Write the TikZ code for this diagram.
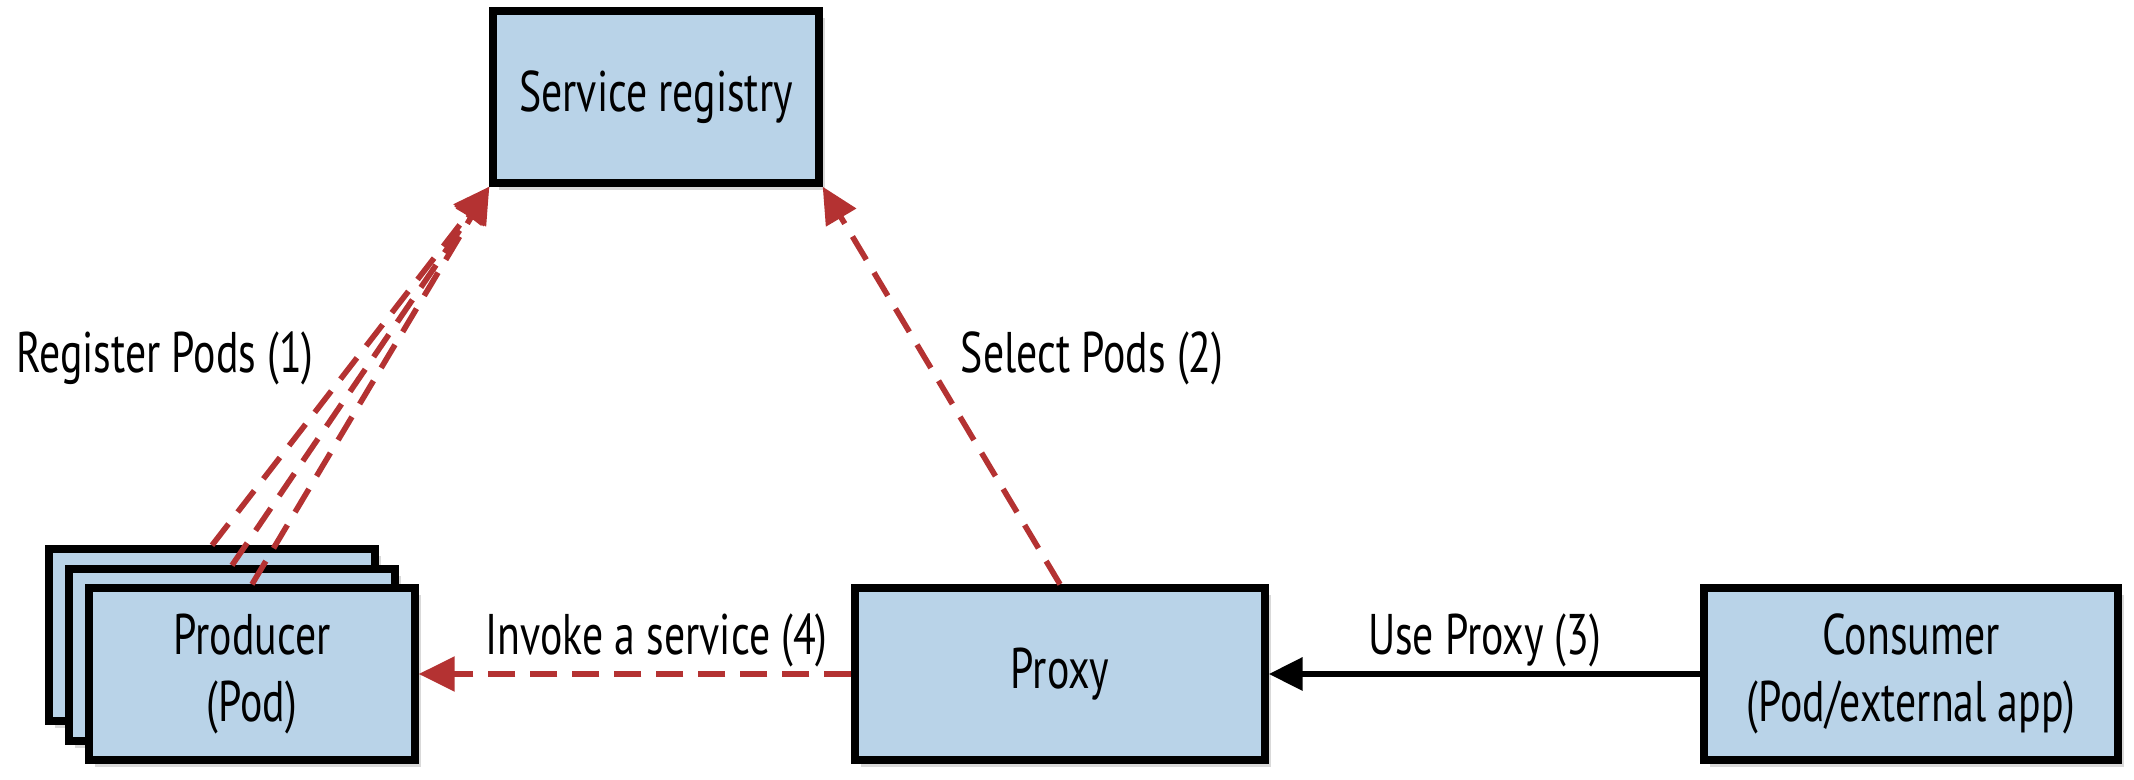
\documentclass[tikz,border=0pt]{standalone}
\usepackage{fontspec}
\setmainfont[FakeStretch=0.73]{PT Sans}
\usetikzlibrary{arrows.meta,shadows}
\definecolor{boxblue}{RGB}{185,211,232}
\definecolor{linkred}{RGB}{180,50,50}
\begin{document}
\begin{tikzpicture}[
        font=\fontsize{16.3}{19}\selectfont,
        box/.style={draw=black,line width=2.1pt,fill=boxblue,minimum height=1.72cm,align=center,
            drop shadow={shadow xshift=.06cm,shadow yshift=-.07cm,opacity=.3}},
        dashlink/.style={linkred,line width=1.6pt,dash pattern=on .27cm off .15cm,
            -{Triangle[length=.36cm,width=.34cm]}},
        uselink/.style={black,line width=1.9pt,-{Triangle[length=.34cm,width=.32cm]}},
        linklabel/.style={text=black,above,yshift=-.08cm}]
    \useasboundingbox (0,0) rectangle (21.34,7.8);
    % boxes
    \node[box,minimum width=3.26cm] (registry) at (6.56,6.83) {Service registry};
    \node[box,minimum width=3.26cm] (pod3) at (2.12,1.45) {};
    \node[box,minimum width=3.26cm] (pod2) at (2.32,1.25) {};
    \node[box,minimum width=3.26cm] (pod1) at (2.52,1.06) {Producer\\(Pod)};
    \node[box,minimum width=4.1cm] (proxy) at (10.6,1.06) {Proxy};
    \node[box,minimum width=4.14cm] (consumer) at (19.11,1.06) {Consumer\\(Pod/external app)};
    % links
    \foreach \p in {pod3,pod2,pod1}
        \draw[dashlink] (\p.north) -- (registry.south west);
    \draw[dashlink] (proxy.north) -- (registry.south east);
    \draw[dashlink] (proxy) -- node[linklabel,pos=.45] {Invoke a service (4)} (pod1);
    \draw[uselink] (consumer) -- node[linklabel] {Use Proxy (3)} (proxy);
    \node (reglabel) at (1.65,4.22) {Register Pods (1)};
    \node (sellabel) at (10.92,4.22) {Select Pods (2)};
\end{tikzpicture}
\end{document}
